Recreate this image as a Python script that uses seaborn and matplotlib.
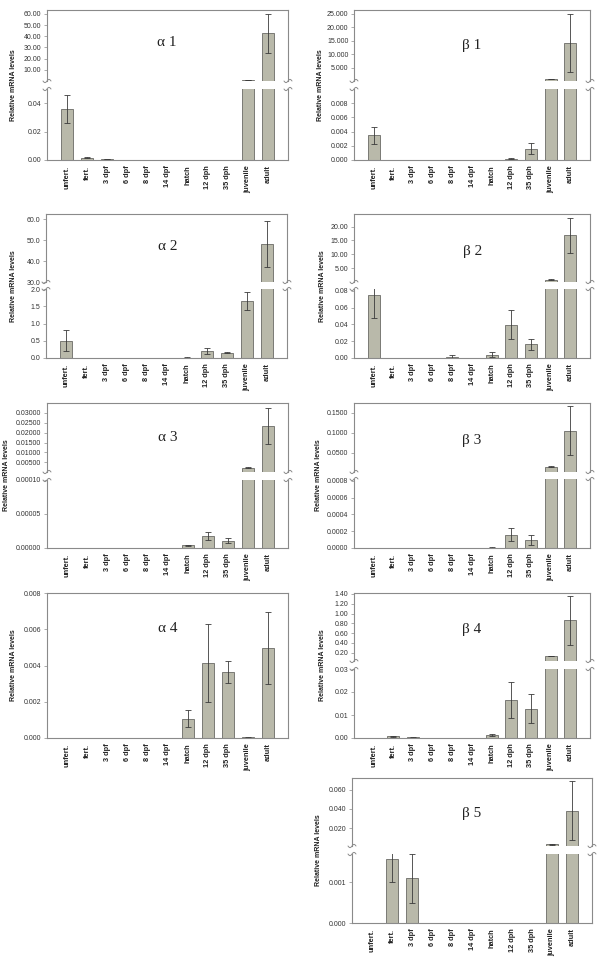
import matplotlib
matplotlib.use('Agg')
import matplotlib.pyplot as plt
import numpy as np
import pandas as pd
import seaborn as sns
from matplotlib.lines import Line2D
from matplotlib.ticker import FormatStrFormatter

stages = ['unfert.', 'fert.', '3 dpf', '6 dpf', '8 dpf', '14 dpf',
          'hatch', '12 dph', '35 dph', 'juvenile', 'adult']

# relative mRNA levels (mean, error)
a1_vals = [0.036, 0.0015, 0.0005, 0, 0, 0, 0, 0, 0, 1.0, 42.5]
a1_errs = [0.010, 0.0003, 0.0001, 0, 0, 0, 0, 0, 0, 0.1, 17.5]
b1_vals = [0.0035, 0, 0, 0, 0, 0, 0, 0.0002, 0.0016, 0.8, 14.2]
b1_errs = [0.0012, 0, 0, 0, 0, 0, 0, 0.00005, 0.0008, 0.1, 10.8]
a2_vals = [0.5, 0, 0.01, 0, 0, 0, 0.012, 0.2, 0.15, 1.65, 48.0]
a2_errs = [0.3, 0, 0.003, 0, 0, 0, 0.003, 0.08, 0.01, 0.27, 11.0]
b2_vals = [0.075, 0, 0, 0, 0.0015, 0, 0.004, 0.0395, 0.0165, 0.9, 16.8]
b2_errs = [0.028, 0, 0, 0, 0.002, 0, 0.003, 0.017, 0.0065, 0.1, 6.3]
a3_vals = [0, 0, 0, 0, 0, 0, 0.000004, 0.000018, 0.000011, 0.0022, 0.0233]
a3_errs = [0, 0, 0, 0, 0, 0, 0.0000005, 0.000006, 0.000004, 0.0003, 0.009]
b3_vals = [0, 0, 0, 0, 0, 0, 0.000005, 0.00016, 0.0001, 0.0145, 0.105]
b3_errs = [0, 0, 0, 0, 0, 0, 0.000002, 0.00008, 0.00006, 0.002, 0.062]
a4_vals = [0, 0, 0, 0, 0, 0, 0.00107, 0.00413, 0.00363, 0.00003, 0.00497]
a4_errs = [0, 0, 0, 0, 0, 0, 0.00045, 0.00215, 0.0006, 0.00001, 0.00197]
b4_vals = [0, 0.0007, 0.0003, 0, 0, 0, 0.0014, 0.0165, 0.0127, 0.13, 0.86]
b4_errs = [0, 0.0003, 0.0001, 0, 0, 0, 0.0004, 0.0077, 0.0063, 0.005, 0.5]
b5_vals = [0, 0.00158, 0.0011, 0, 0, 0, 0, 0, 0, 0.0035, 0.038]
b5_errs = [0, 0.00057, 0.0006, 0, 0, 0, 0, 0, 0, 0.0003, 0.0305]

# name, values, errors, pixel box (x0, x1, top, break_top, break_bottom, bottom),
# upper ylim, upper ticks, upper fmt, lower ylim, lower ticks, lower fmt, title pos, ylabel x
panels = [
    ('α 1', a1_vals, a1_errs, (47, 288, 10, 81, 89, 160),
     (0.05, 63.5), [10, 20, 30, 40, 50, 60], '%.2f',
     (0, 0.05), [0, 0.02, 0.04], '%.2f', (167, 43), 14),
    ('β 1', b1_vals, b1_errs, (354, 590, 10, 81, 89, 160),
     (0.01, 26.3), [5, 10, 15, 20, 25], '%.3f',
     (0, 0.01), [0, 0.002, 0.004, 0.006, 0.008], '%.3f', (472, 45), 320),
    ('α 2', a2_vals, a2_errs, (46, 287, 214, 282, 289, 358),
     (30, 62.5), [30, 40, 50, 60], '%.1f',
     (0, 2.0), [0, 0.5, 1.0, 1.5, 2.0], '%.1f', (168, 247), 14),
    ('β 2', b2_vals, b2_errs, (354, 590, 214, 282, 289, 358),
     (0.082, 24.5), [5, 10, 15, 20], '%.2f',
     (0, 0.082), [0, 0.02, 0.04, 0.06, 0.08], '%.2f', (473, 251), 322),
    ('α 3', a3_vals, a3_errs, (47, 288, 403, 472, 480, 548),
     (0.0001, 0.035), [0.005, 0.01, 0.015, 0.02, 0.025, 0.03], '%.5f',
     (0, 0.0001), [0, 0.00005, 0.0001], '%.5f', (168, 438), 7),
    ('β 3', b3_vals, b3_errs, (354, 590, 403, 472, 479, 548),
     (0.00082, 0.175), [0.05, 0.1, 0.15], '%.4f',
     (0, 0.00082), [0, 0.0002, 0.0004, 0.0006, 0.0008], '%.4f', (472, 441), 318),
    ('α 4', a4_vals, a4_errs, (47, 288, 593, None, None, 738),
     None, None, None,
     (0, 0.008), [0, 0.002, 0.004, 0.006, 0.008], '%.3f', (168, 629), 14),
    ('β 4', b4_vals, b4_errs, (354, 590, 593, 661, 669, 738),
     (0.03, 1.42), [0.2, 0.4, 0.6, 0.8, 1.0, 1.2, 1.4], '%.2f',
     (0, 0.03), [0, 0.01, 0.02, 0.03], '%.2f', (472, 630), 323),
    ('β 5', b5_vals, b5_errs, (352, 592, 778, 846, 854, 923),
     (0.0017, 0.072), [0.02, 0.04, 0.06], '%.3f',
     (0, 0.0017), [0, 0.001], '%.3f', (472, 813), 318),
]

W, H = 600, 964
BAR = '#b9b9aa'
EDGE = '#6a6a66'
SPINE = '#8a8a8a'

sns.set_theme(style='white')
plt.rcParams['font.family'] = ['Liberation Sans', 'DejaVu Sans']

fig = plt.figure(figsize=(W / 100, H / 100), dpi=100)
fig.patch.set_facecolor('white')


def px_axes(x0, x1, y0, y1):
    return fig.add_axes([x0 / W, 1 - y1 / H, (x1 - x0) / W, (y1 - y0) / H])


def draw_bars(ax, vals, errs, ylim, ticks, fmt, floor=None):
    v = np.array(vals, dtype=float)
    e = np.array(errs, dtype=float)
    shown = v.copy()
    if floor is not None:
        shown[v <= floor] = np.nan
    df = pd.DataFrame({'stage': stages, 'level': shown})
    sns.barplot(data=df, x='stage', y='level', order=stages, color=BAR,
                saturation=1, edgecolor=EDGE, linewidth=0.6, width=0.6,
                errorbar=None, ax=ax)
    keep = e > 0
    if floor is not None:
        keep &= v > floor
    idx = np.arange(len(stages))[keep]
    ax.errorbar(idx, v[keep], yerr=e[keep], fmt='none', ecolor='#3a3a3a',
                elinewidth=0.6, capsize=2, capthick=0.6)
    ax.set_xlim(-1, 11)
    ax.set_ylim(*ylim)
    ax.set_yticks(ticks)
    ax.yaxis.set_major_formatter(FormatStrFormatter(fmt))
    ax.set_xlabel('')
    ax.set_ylabel('')
    ax.tick_params(axis='y', direction='out', length=2.5, width=0.5,
                   color=SPINE, labelsize=5, labelcolor='#333333', pad=1.5, left=True)
    for s in ax.spines.values():
        s.set_color(SPINE)
        s.set_linewidth(0.8)


def wiggle(xc, yc):
    t = np.linspace(-1, 1, 30)
    xs = (xc + 4 * t) / W
    ys = 1 - (yc - 1.6 * np.sin(np.pi * t)) / H
    fig.add_artist(Line2D(xs, ys, color=SPINE, lw=0.7, transform=fig.transFigure))


for (name, vals, errs, box, up_lim, up_ticks, up_fmt,
     lo_lim, lo_ticks, lo_fmt, tpos, ylx) in panels:
    x0, x1, top, bt, bb, bot = box
    if bt is None:
        low = px_axes(x0, x1, top, bot)
    else:
        low = px_axes(x0, x1, bb, bot)
        up = px_axes(x0, x1, top, bt)
        draw_bars(up, vals, errs, up_lim, up_ticks, up_fmt, floor=lo_lim[1])
        up.spines['bottom'].set_visible(False)
        up.set_xticks([])
        low.spines['top'].set_visible(False)
        for xx in (x0, x1):
            wiggle(xx, bt)
            wiggle(xx, bb)
    draw_bars(low, vals, errs, lo_lim, lo_ticks, lo_fmt)
    low.set_xticks(range(len(stages)))
    low.set_xticklabels(stages, rotation=90, fontsize=5.3, fontweight='bold',
                        color='#222222')
    low.tick_params(axis='x', length=0, pad=4)
    fig.text(tpos[0] / W, 1 - tpos[1] / H, name, ha='center', va='center',
             fontsize=11, family=['Liberation Serif', 'DejaVu Serif'], color='#222222')
    fig.text(ylx / W, 1 - (top + bot) / 2 / H, 'Relative mRNA levels',
             rotation=90, ha='center', va='center', fontsize=5,
             fontweight='bold', color='#222222')

fig.savefig('out.png', dpi=100, facecolor='white')
